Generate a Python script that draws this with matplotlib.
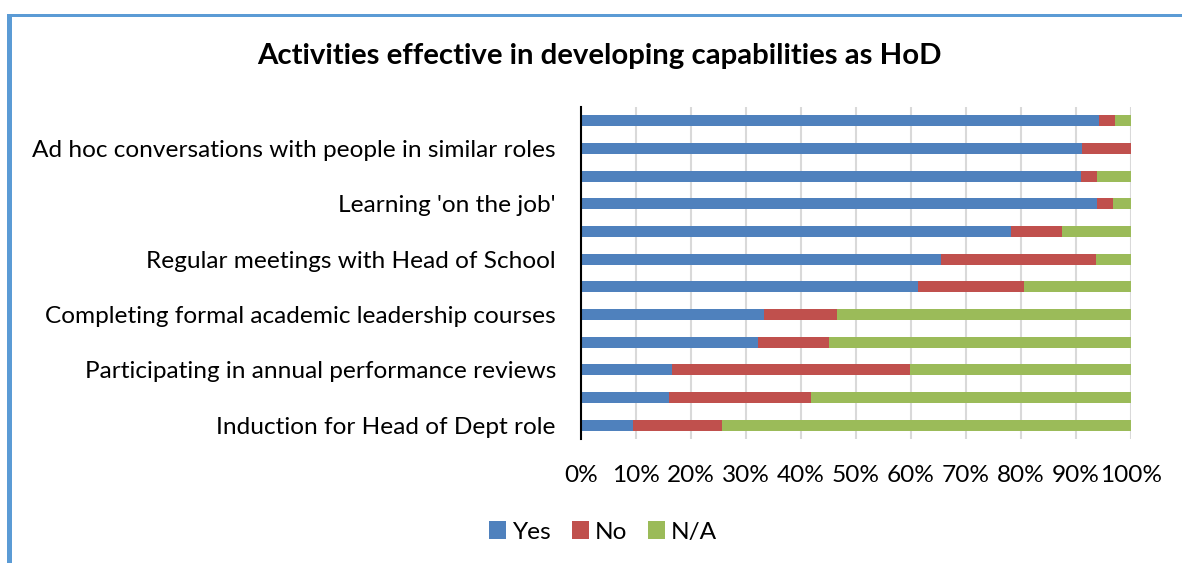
"""Stacked bar chart: activities effective in developing capabilities as HoD."""

import matplotlib

matplotlib.use("Agg")
import matplotlib.pyplot as plt
from matplotlib.patches import Rectangle

# bottom to top; only every other row carries a label
labels = [
    "Induction for Head of Dept role",
    "",
    "Participating in annual performance reviews",
    "",
    "Completing formal academic leadership courses",
    "",
    "Regular meetings with Head of School",
    "",
    "Learning 'on the job'",
    "",
    "Ad hoc conversations with people in similar roles",
    "",
]
yes = [9.5, 16.0, 16.6, 32.1, 33.2, 61.2, 65.5, 78.1, 93.8, 90.9, 91.1, 94.1]
no = [16.1, 25.8, 43.3, 12.9, 13.3, 19.3, 28.2, 9.4, 3.0, 3.0, 8.9, 2.9]
na = [74.4, 58.2, 40.1, 55.0, 53.5, 19.5, 6.3, 12.5, 3.2, 6.1, 0.0, 3.0]

series = [("Yes", yes, "#4F81BD"), ("No", no, "#C0504D"), ("N/A", na, "#9BBB59")]

plt.rcParams["font.family"] = ["Lato", "DejaVu Sans"]
FS = 17.6

fig = plt.figure(figsize=(11.82, 5.63), dpi=100)
ax = fig.add_axes([581 / 1182, 1 - 439 / 563, 550 / 1182, 332 / 563])

pos = list(range(len(labels)))
left = [0.0] * len(labels)
for name, vals, color in series:
    ax.barh(pos, vals, left=left, height=0.4, color=color, label=name, zorder=3)
    left = [a + b for a, b in zip(left, vals)]

ax.set_xlim(0, 100)
ax.set_ylim(-0.5, len(labels) - 0.5)
ax.set_xticks(range(0, 101, 10))
ax.set_xticklabels([f"{t}%" for t in range(0, 101, 10)], fontsize=FS)
shown = [i for i, s in enumerate(labels) if s]
ax.set_yticks(shown)
ax.set_yticklabels([labels[i] for i in shown], fontsize=FS)
ax.tick_params(axis="both", length=0)
ax.tick_params(axis="y", pad=18)
ax.tick_params(axis="x", pad=19)
ax.grid(True, axis="x", color="#D9D9D9", linewidth=1.5, zorder=0)
for side in ("top", "right", "bottom"):
    ax.spines[side].set_visible(False)
ax.spines["left"].set_color("#000000")
ax.spines["left"].set_linewidth(1.5)
ax.spines["left"].set_zorder(4)

fig.text(599 / 1182, 1 - 56 / 563, "Activities effective in developing capabilities as HoD",
         ha="center", va="center", fontsize=21.2, fontweight="bold")

fig.legend(loc="center", bbox_to_anchor=(603 / 1182, 1 - 532 / 563), ncol=3, frameon=False,
           fontsize=FS, handlelength=0.7, handleheight=0.7, handletextpad=0.25, columnspacing=0.85)

# frame lines along the top and left edges
fig.add_artist(Rectangle((7 / 1182, 0), 5 / 1182, 1 - 14 / 563, transform=fig.transFigure,
                         color="#5B9BD5", lw=0))
fig.add_artist(Rectangle((7 / 1182, 1 - 17 / 563), 1, 3 / 563, transform=fig.transFigure,
                         color="#5B9BD5", lw=0))

fig.savefig("out.png", dpi=100)
plt.close(fig)
